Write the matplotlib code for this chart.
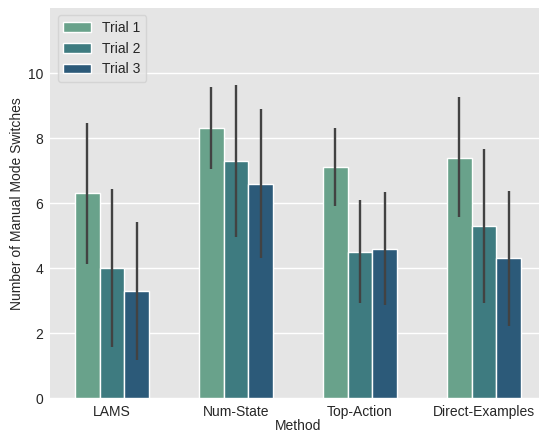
import matplotlib
matplotlib.use("Agg")
import matplotlib.pyplot as plt
import numpy as np

methods = ["LAMS", "Num-State", "Top-Action", "Direct-Examples"]
trials = ["Trial 1", "Trial 2", "Trial 3"]
colors = ["#69a28b", "#3e7b80", "#2c5a79"]

# mean switches per method, one list per trial
means = {
    "Trial 1": [6.3, 8.3, 7.1, 7.4],
    "Trial 2": [4.0, 7.3, 4.5, 5.3],
    "Trial 3": [3.3, 6.6, 4.6, 4.3],
}
# confidence interval bounds
ci_low = {
    "Trial 1": [4.12, 7.04, 5.90, 5.56],
    "Trial 2": [1.58, 4.96, 2.92, 2.94],
    "Trial 3": [1.19, 4.32, 2.87, 2.23],
}
ci_high = {
    "Trial 1": [8.47, 9.57, 8.31, 9.26],
    "Trial 2": [6.42, 9.64, 6.10, 7.68],
    "Trial 3": [5.43, 8.89, 6.33, 6.38],
}

plt.rcParams["font.family"] = ["Liberation Sans", "DejaVu Sans"]

W, H = 539, 434
fig = plt.figure(figsize=(W / 100, H / 100), dpi=100)
ax = fig.add_axes([50 / W, 35.7 / H, 496 / W, 390.3 / H])
ax.set_facecolor("#e5e5e5")
ax.set_axisbelow(True)
ax.yaxis.grid(True, color="white", linewidth=1.0)
ax.xaxis.grid(False)
for s in ax.spines.values():
    s.set_visible(False)

x = np.arange(len(methods))
group_w = 0.6
bw = group_w / len(trials)
for i, t in enumerate(trials):
    pos = x - group_w / 2 + bw * (i + 0.5)
    ax.bar(pos, means[t], width=bw, color=colors[i], edgecolor="white",
           linewidth=1.0, label=t, zorder=2)
    ax.vlines(pos, ci_low[t], ci_high[t], color="#424242", linewidth=1.7, zorder=3)

ax.set_xlim(-0.5, 3.5)
ax.set_ylim(0, 12.0)
ax.set_yticks([0, 2, 4, 6, 8, 10])
ax.set_xticks(x)
ax.set_xticklabels(methods)
ax.tick_params(axis="both", length=0, labelsize=10, colors="#262626", pad=5)
ax.set_xlabel("Method", fontsize=10, color="#262626", labelpad=0)
ax.set_ylabel("Number of Manual Mode Switches", fontsize=10, color="#262626")
ax.yaxis.set_label_coords(-0.052, 0.5)

leg = ax.legend(loc="upper left", bbox_to_anchor=(0.016, 0.982), borderaxespad=0,
                fontsize=10, frameon=True, handlelength=2.0, handletextpad=0.8,
                borderpad=0.4, labelspacing=0.5)
leg.get_frame().set_facecolor("#e5e5e5")
leg.get_frame().set_edgecolor("#d0d0d0")
for txt in leg.get_texts():
    txt.set_color("#262626")

fig.savefig("out.png", dpi=100)
